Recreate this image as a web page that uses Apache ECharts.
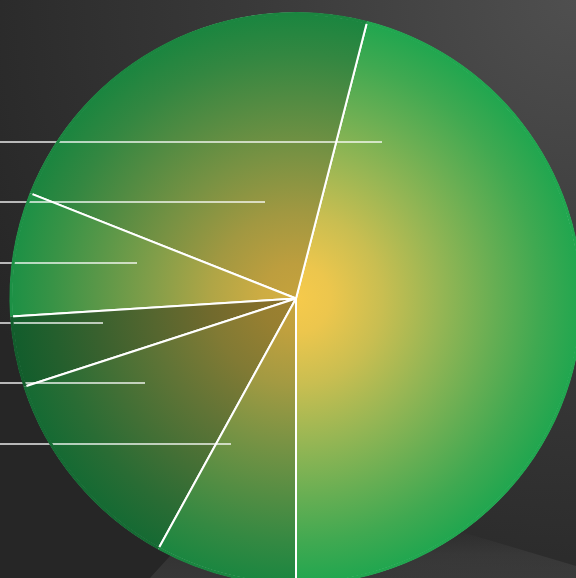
<!DOCTYPE html>
<html>
<head>
<meta charset="utf-8">
<script src="https://cdn.jsdelivr.net/npm/echarts@6/dist/echarts.min.js"></script>
<style>
  html, body { margin: 0; padding: 0; background: #2a2a2a; }
  #chart { width: 576px; height: 578px; }
</style>
</head>
<body>
<div id="chart"></div>
<script>
// ---- data ----
const categories = ['A', 'F', 'E', 'D', 'C', 'B'];
const values = [46, 23, 7, 4, 12, 8];

// ---- style ----
const shade = [1.0, 0.8, 0.87, 0.56, 0.64, 0.81];
const baseStops = [
  [0, '#f6ca4b'], [0.12, '#ecc64d'], [0.3, '#c9be51'], [0.5, '#97b654'],
  [0.7, '#65ae53'], [0.85, '#40a951'], [1, '#1fa64f']
];
const CX = 296, CY = 298.5, R = 285;
const labelRows = [ // label line row (y) and end (x) per slice, layout only
  [142, 382], [202, 265], [263, 137], [323, 103], [383, 145], [444, 231]
];

function mul(hex, f) {
  const n = parseInt(hex.slice(1), 16);
  const r = Math.round(((n >> 16) & 255) * f), g = Math.round(((n >> 8) & 255) * f), b = Math.round((n & 255) * f);
  return 'rgb(' + r + ',' + g + ',' + b + ')';
}
function grad(f) {
  return {
    type: 'radial', x: CX, y: CY, r: R + 2, global: true,
    colorStops: baseStops.map(s => ({ offset: s[0], color: mul(s[1], f) }))
  };
}
const pieData = categories.map((c, i) => ({
  name: c, value: values[i], itemStyle: { color: grad(shade[i]) }
}));

const chart = echarts.init(document.getElementById('chart'));
chart.setOption({
  animation: false,
  backgroundColor: {
    type: 'radial', x: 1, y: 0, r: 1.15,
    colorStops: [
      { offset: 0, color: '#4f4f4f' },
      { offset: 0.5, color: '#393939' },
      { offset: 1, color: '#262626' }
    ]
  },
  graphic: [{
    type: 'polygon', z: -10, silent: true,
    shape: { points: [[150, 578], [170, 556], [320, 548], [455, 530], [576, 566], [576, 578]] },
    style: {
      fill: {
        type: 'linear', x: 0, y: 0, x2: 0, y2: 1,
        colorStops: [{ offset: 0, color: 'rgba(90,90,90,0.0)' }, { offset: 0.5, color: 'rgba(90,90,90,0.25)' }, { offset: 1, color: 'rgba(80,80,80,0.4)' }]
      }
    }
  }],
  series: [{
    type: 'pie',
    z: 2,
    center: [CX, CY],
    radius: R,
    startAngle: -90,
    clockwise: false,
    silent: true,
    label: { show: false },
    labelLine: { show: false },
    itemStyle: { borderColor: '#ffffff', borderWidth: 2 },
    data: pieData
  }, {
    type: 'pie',
    z: 4,
    center: [CX, CY],
    radius: [R - 1.5, R + 1.5],
    startAngle: -90,
    clockwise: false,
    silent: true,
    avoidLabelOverlap: false,
    label: { show: true, position: 'outside', formatter: '{b}', color: '#ffffff', fontSize: 14 },
    labelLine: { show: true, lineStyle: { color: 'rgba(255,255,255,0.9)', width: 1.5 } },
    labelLayout: function (p) {
      const row = labelRows[p.dataIndex];
      return {
        x: -6, y: row[0], align: 'right', verticalAlign: 'middle',
        labelLinePoints: [[-6, row[0]], [-6, row[0]], [row[1], row[0]]]
      };
    },
    itemStyle: { borderWidth: 0 },
    data: pieData
  }]
});
</script>
</body>
</html>
